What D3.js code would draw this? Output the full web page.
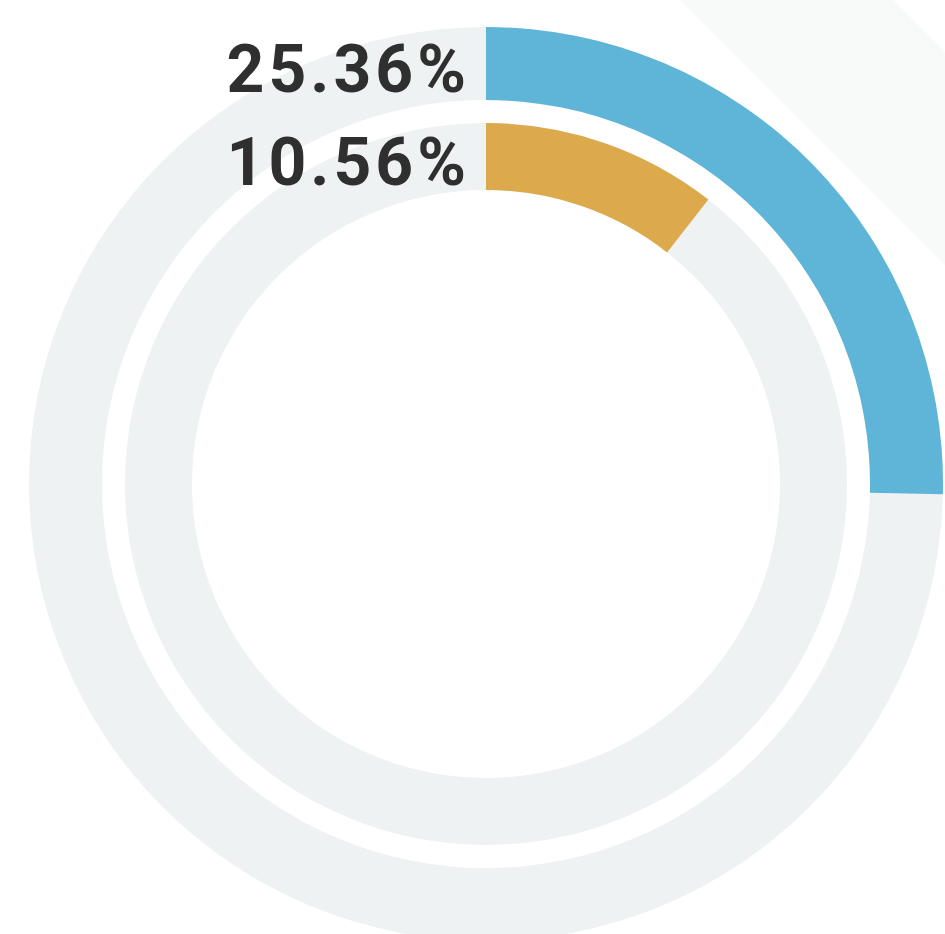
<!DOCTYPE html>
<html>
<head>
<meta charset="utf-8">
<script src="https://cdn.jsdelivr.net/npm/d3@7"></script>
<style>
  html, body { margin: 0; padding: 0; background: #fff; }
  svg { display: block; }
</style>
</head>
<body>
<div id="chart"></div>
<script>
// ring values (percent of full circle), outer ring first
let seriesNames = ['outer', 'inner'];
let seriesValues = [25.36, 10.56];
let seriesLabels = ['25.36%', '10.56%'];
let seriesColors = ['#5eb5d8', '#dca94c'];

let width = 945, height = 934;
let cx = 486, cy = 484;
let rings = [
    { inner: 384, outer: 457 },
    { inner: 294, outer: 361 }
];
let spacing = 4;

let svg = d3.select('#chart').append('svg')
    .attr('width', width)
    .attr('height', height);

// faint diagonal band in the top right corner
svg.append('polygon')
    .attr('points', [[680, 0], [893, 0], [945, 52], [945, 265]].map(p => p.join(',')).join(' '))
    .attr('fill', '#f8f9f9');

let angle = d3.scaleLinear()
    .domain([0, 100])
    .range([0, 2 * Math.PI]);

let g = svg.append('g')
    .attr('transform', 'translate(' + cx + ',' + cy + ')');

let arc = d3.arc();

let data = seriesNames.map(function(name, i) {
    return {
        name: name,
        value: seriesValues[i],
        label: seriesLabels[i],
        color: seriesColors[i],
        ring: rings[i]
    };
});

// background tracks
g.selectAll('path.track')
    .data(data)
    .enter()
    .append('path')
        .attr('class', 'track')
        .attr('fill', '#eef2f3')
        .attr('d', function(d) {
            return arc({
                innerRadius: d.ring.inner,
                outerRadius: d.ring.outer,
                startAngle: 0,
                endAngle: 2 * Math.PI
            });
        });

// value arcs
g.selectAll('path.value')
    .data(data)
    .enter()
    .append('path')
        .attr('class', 'value')
        .attr('fill', function(d) { return d.color; })
        .attr('d', function(d) {
            return arc({
                innerRadius: d.ring.inner,
                outerRadius: d.ring.outer,
                startAngle: 0,
                endAngle: angle(d.value)
            });
        });

// labels, right aligned just left of the arc start
// (letter-spacing also trails the last glyph, so shift right by it)
g.selectAll('text.label')
    .data(data)
    .enter()
    .append('text')
        .attr('class', 'label')
        .attr('x', -20 + spacing)
        .attr('y', function(d) { return -(d.ring.outer + d.ring.inner) / 2 + 28; })
        .attr('text-anchor', 'end')
        .attr('fill', '#2f2f2f')
        .style('font-family', 'Roboto, "Liberation Sans", sans-serif')
        .style('font-weight', 'bold')
        .style('font-size', '66px')
        .style('letter-spacing', spacing + 'px')
        .text(function(d) { return d.label; });
</script>
</body>
</html>
